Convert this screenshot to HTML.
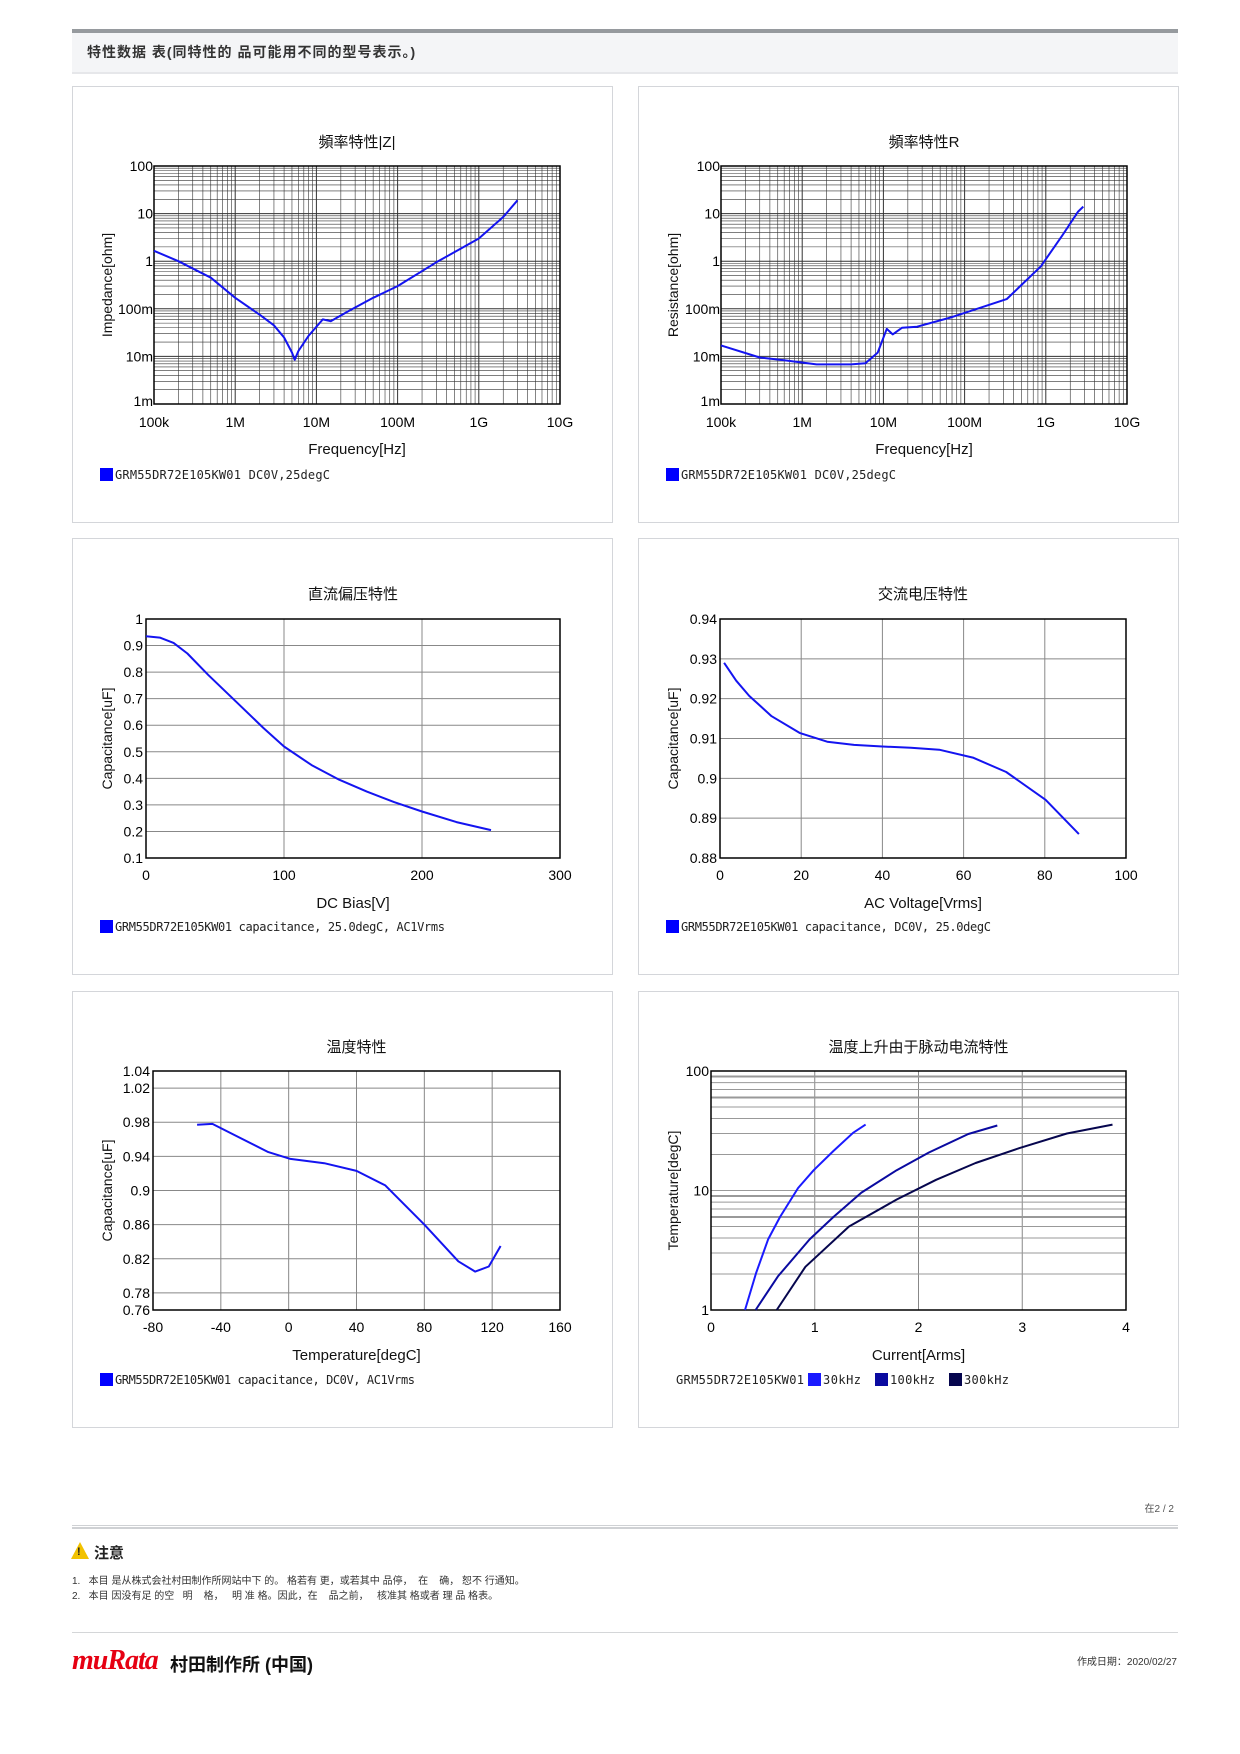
<!DOCTYPE html>
<html><head><meta charset="utf-8">
<style>
body{margin:0;background:#fff;width:1240px;height:1754px;position:relative;overflow:hidden;font-family:"Liberation Sans","Noto Sans CJK SC",sans-serif;}
.abs{position:absolute;}
.panel{position:absolute;width:541px;height:437px;border:1px solid #d4d6da;box-sizing:border-box;background:#fff;}
.panel svg{position:absolute;left:0;top:0;}
</style></head><body>
<div class="abs" style="left:72px;top:29px;width:1106px;height:4px;background:#969a9e"></div>
<div class="abs" style="left:72px;top:33px;width:1106px;height:39px;background:#f4f5f7;border-bottom:2px solid #e6e7ea"></div>
<div class="abs" style="left:87px;top:42px;font-size:14px;font-weight:bold;color:#333;letter-spacing:1px;font-family:'Liberation Sans','Noto Sans CJK SC',sans-serif">特性数据 表(同特性的 品可能用不同的型号表示。)</div>

<div class="panel" style="left:72px;top:86px"><svg id="c1" width="541" height="437"></svg></div>
<div class="panel" style="left:638px;top:86px"><svg id="c2" width="541" height="437"></svg></div>
<div class="panel" style="left:72px;top:538px"><svg id="c3" width="541" height="437"></svg></div>
<div class="panel" style="left:638px;top:538px"><svg id="c4" width="541" height="437"></svg></div>
<div class="panel" style="left:72px;top:991px"><svg id="c5" width="541" height="437"></svg></div>
<div class="panel" style="left:638px;top:991px"><svg id="c6" width="541" height="437"></svg></div>

<div class="abs" style="right:66px;top:1500px;font-size:10px;color:#555">在2 / 2</div>
<div class="abs" style="left:72px;top:1525px;width:1106px;height:4px;border-top:1px solid #cfd1d4;border-bottom:2px solid #cfd1d4;box-sizing:border-box"></div>
<div class="abs" style="left:71px;top:1542px;width:0;height:0;border-left:9px solid transparent;border-right:9px solid transparent;border-bottom:17px solid #f2c200"></div>
<div class="abs" style="left:77px;top:1546px;font-size:11px;font-weight:bold;color:#222">!</div>
<div class="abs" style="left:94px;top:1542px;font-size:15px;font-weight:bold;color:#222">注意</div>
<div class="abs" style="left:72px;top:1574px;font-size:10px;color:#333;line-height:15px;white-space:pre">1.   本目 是从株式会社村田制作所网站中下 的。 格若有 更，或若其中 品停，  在    确， 恕不 行通知。
2.   本目 因没有足 的空   明    格，   明 准 格。因此，在    品之前，   核准其 格或者 理 品 格表。</div>
<div class="abs" style="left:72px;top:1632px;width:1106px;height:1px;background:#d4d6d8"></div>
<div class="abs" style="left:72px;top:1645px;font-family:'Liberation Serif',serif;font-style:italic;font-weight:bold;font-size:28px;color:#e60012;letter-spacing:-1px">muRata</div>
<div class="abs" style="left:170px;top:1651px;font-size:18px;font-weight:bold;color:#111">村田制作所 (中国)</div>
<div class="abs" style="right:63px;top:1653px;font-size:10px;color:#333">作成日期：2020/02/27</div>

<script>
// ---- chart data ----
const zFreq=[1e5,2e5,5e5,1e6,2e6,3e6,4e6,5e6,5.4e6,6e6,8e6,1.2e7,1.5e7,2.5e7,5e7,1e8,3e8,1e9,2e9,3e9];
const zVals=[1.65,1.0,0.45,0.17,0.075,0.045,0.025,0.012,0.0085,0.013,0.027,0.06,0.055,0.09,0.17,0.3,0.95,3.0,8.5,19];
const rFreq=[1e5,3e5,6e5,1.5e6,4e6,6e6,8.5e6,1.1e7,1.3e7,1.7e7,2.6e7,7e7,3.3e8,8.7e8,1.6e9,2.5e9,2.9e9];
const rVals=[0.017,0.0095,0.0083,0.0068,0.0068,0.0072,0.012,0.038,0.029,0.04,0.042,0.067,0.16,0.78,3.5,11,14];
const freqTicks=["100k","1M","10M","100M","1G","10G"];
const ohmTicks=["1m","10m","100m","1","10","100"];
const dcV=[0,10,20,30,45,65,85,100,120,140,160,180,200,225,250];
const dcC=[0.935,0.93,0.91,0.87,0.79,0.69,0.59,0.52,0.45,0.395,0.35,0.31,0.275,0.235,0.205];
const dcXTicks=["0","100","200","300"];
const dcYTicks=["0.1","0.2","0.3","0.4","0.5","0.6","0.7","0.8","0.9","1"];
const acV=[1,4,7.2,12.7,19.6,26.4,33,40,47,54,62.3,70.5,80.2,88.4];
const acC=[0.929,0.9245,0.9207,0.9156,0.9114,0.9092,0.9084,0.908,0.9077,0.9072,0.9052,0.9016,0.8946,0.886];
const acXTicks=["0","20","40","60","80","100"];
const acYTicks=["0.88","0.89","0.9","0.91","0.92","0.93","0.94"];
const tT=[-54,-45,-32,-12,1,21,40,57,80,100,110,118,125];
const tC=[0.977,0.978,0.965,0.945,0.937,0.932,0.923,0.906,0.86,0.817,0.805,0.811,0.835];
const tXTicks=["-80","-40","0","40","80","120","160"];
const tYTicks=["0.76","0.78","0.82","0.86","0.9","0.94","0.98","1.02","1.04"];
const i30=[0.328,0.435,0.55,0.665,0.84,0.99,1.18,1.37,1.49];
const t30=[1,2.04,3.9,6.0,10.5,14.8,21.4,30.4,35.6];
const i100=[0.43,0.645,0.95,1.18,1.45,1.79,2.1,2.48,2.76];
const t100=[1,1.91,3.9,6.0,9.6,14.8,20.8,29.7,35];
const i300=[0.633,0.91,1.33,1.79,2.17,2.55,2.97,3.43,3.87];
const t300=[1,2.3,5.0,8.4,12.3,17.0,22.6,30.0,35.6];
const curXTicks=["0","1","2","3","4"];
const curYTicks=["1","10","100"];

const NS="http://www.w3.org/2000/svg";
function el(svg,tag,attrs,text){const e=document.createElementNS(NS,tag);for(const k in attrs)e.setAttribute(k,attrs[k]);if(text!==undefined)e.textContent=text;svg.appendChild(e);return e;}
const FONT='"Liberation Sans","Noto Sans CJK JP",sans-serif';
function linS(a,b,p,q){return v=>p+(v-a)/(b-a)*(q-p);}
function logS(a,b,p,q){return v=>p+(Math.log10(v)-Math.log10(a))/(Math.log10(b)-Math.log10(a))*(q-p);}

function frame(svg,o){
  const t=el(svg,'text',{x:o.L+o.W/2,y:60,'text-anchor':'middle','font-size':15,'font-family':FONT,fill:'#111'},o.title);
  
  const yl=el(svg,'text',{transform:`translate(${39},${o.T+o.H/2}) rotate(-90)`,'text-anchor':'middle','font-size':14,'font-family':FONT,fill:'#111'},o.ytitle);
  
  const xl=el(svg,'text',{x:o.L+o.W/2,y:o.T+o.H+50,'text-anchor':'middle','font-size':15,'font-family':FONT,fill:'#111'},o.xtitle);
  
}
function legend(svg,x,y,items){
  let cx=x;
  items.forEach(it=>{
    if(it.c){const r=el(svg,'rect',{x:cx,y:y-11,width:13,height:13,fill:it.c});cx+=15;}
    const t=el(svg,'text',{x:cx,y:y,'font-size':12,'font-family':'"DejaVu Sans Mono","Liberation Mono",monospace','textLength':it.w,fill:'#222'},it.t);
    
    cx+=it.w+(it.gap||4);
  });
}
function line(svg,xs,ys,sx,sy,color,w){
  const d=xs.map((v,i)=>(i?'L':'M')+sx(v).toFixed(1)+','+sy(ys[i]).toFixed(1)).join('');
  const p=el(svg,'path',{d:d,fill:'none',stroke:color,'stroke-width':w||2,'stroke-linejoin':'round'});
  
}
function box(svg,o){const r=el(svg,'rect',{x:o.L,y:o.T,width:o.W,height:o.H,fill:'none',stroke:'#000','stroke-width':1.5});}

function freqChart(id,title,ytitle,xs,ys){
  const svg=document.getElementById(id);
  const o={L:id==='c1'?81:82,T:79,W:406,H:238,title,ytitle,xtitle:'Frequency[Hz]'};
  const sx=logS(1e5,1e10,o.L,o.L+o.W), sy=logS(1e-3,100,o.T+o.H,o.T);
  const g=el(svg,'g',{});
  for(let d=5;d<10;d++)for(let k=1;k<10;k++){const x=sx(k*Math.pow(10,d));el(g,'line',{x1:x,x2:x,y1:o.T,y2:o.T+o.H,stroke:'#333','stroke-width':k==1?1:0.6});}
  for(let d=-3;d<2;d++)for(let k=1;k<10;k++){const y=sy(k*Math.pow(10,d));el(g,'line',{x1:o.L,x2:o.L+o.W,y1:y,y2:y,stroke:'#333','stroke-width':k==1?1:0.6});}
  box(svg,o);
  freqTicks.forEach((t,i)=>{const e=el(svg,'text',{x:sx(1e5*Math.pow(10,i)),y:o.T+o.H+23,'text-anchor':'middle','font-size':14,'font-family':FONT},t);});
  ohmTicks.forEach((t,i)=>{const e=el(svg,'text',{x:o.L-1,y:sy(1e-3*Math.pow(10,i))+(i==0?2:5),'text-anchor':'end','font-size':14,'font-family':FONT},t);});
  frame(svg,o);
  line(svg,xs,ys,sx,sy,'#1414f0',2);
  legend(svg,27,392,[{c:'#0000ff',t:'GRM55DR72E105KW01  DC0V,25degC',w:215}]);
}
freqChart('c1','頻率特性|Z|','Impedance[ohm]',zFreq,zVals);
freqChart('c2','頻率特性R','Resistance[ohm]',rFreq,rVals);

function linChart(id,o,xmin,xmax,ymin,ymax,xt,yt,xgrid,ygrid){
  const svg=document.getElementById(id);
  const sx=linS(xmin,xmax,o.L,o.L+o.W), sy=linS(ymin,ymax,o.T+o.H,o.T);
  xgrid.forEach(v=>el(svg,'line',{x1:sx(v),x2:sx(v),y1:o.T,y2:o.T+o.H,stroke:'#888','stroke-width':1}));
  ygrid.forEach(v=>el(svg,'line',{x1:o.L,x2:o.L+o.W,y1:sy(v),y2:sy(v),stroke:'#888','stroke-width':1}));
  box(svg,o);
  xt.forEach(t=>{const e=el(svg,'text',{x:sx(+t),y:o.T+o.H+22,'text-anchor':'middle','font-size':14,'font-family':FONT},t);});
  yt.forEach(t=>{const e=el(svg,'text',{x:o.L-3,y:sy(+t)+5,'text-anchor':'end','font-size':14,'font-family':FONT},t);});
  frame(svg,o);
  return {svg,sx,sy};
}
let c=linChart('c3',{L:73,T:80,W:414,H:239,title:'直流偏压特性',ytitle:'Capacitance[uF]',xtitle:'DC Bias[V]'},0,300,0.1,1,dcXTicks,dcYTicks,[100,200],[0.2,0.3,0.4,0.5,0.6,0.7,0.8,0.9]);
line(c.svg,dcV,dcC,c.sx,c.sy,'#1414f0',2);
legend(c.svg,27,392,[{c:'#0000ff',t:'GRM55DR72E105KW01 capacitance, 25.0degC, AC1Vrms',w:330}]);

c=linChart('c4',{L:81,T:80,W:406,H:239,title:'交流电压特性',ytitle:'Capacitance[uF]',xtitle:'AC Voltage[Vrms]'},0,100,0.88,0.94,acXTicks,acYTicks,[20,40,60,80],[0.89,0.9,0.91,0.92,0.93]);
line(c.svg,acV,acC,c.sx,c.sy,'#1414f0',2);
legend(c.svg,27,392,[{c:'#0000ff',t:'GRM55DR72E105KW01 capacitance, DC0V, 25.0degC',w:310}]);

c=linChart('c5',{L:80,T:79,W:407,H:239,title:'温度特性',ytitle:'Capacitance[uF]',xtitle:'Temperature[degC]'},-80,160,0.76,1.04,tXTicks,tYTicks,[-40,0,40,80,120],[0.78,0.82,0.86,0.9,0.94,0.98,1.02]);
line(c.svg,tT,tC,c.sx,c.sy,'#1414f0',2);
legend(c.svg,27,392,[{c:'#0000ff',t:'GRM55DR72E105KW01 capacitance, DC0V, AC1Vrms',w:300}]);

(function(){
  const svg=document.getElementById('c6');
  const o={L:72,T:79,W:415,H:239,title:'温度上升由于脉动电流特性',ytitle:'Temperature[degC]',xtitle:'Current[Arms]'};
  const sx=linS(0,4,o.L,o.L+o.W), sy=logS(1,100,o.T+o.H,o.T);
  [1,2,3].forEach(v=>el(svg,'line',{x1:sx(v),x2:sx(v),y1:o.T,y2:o.T+o.H,stroke:'#888','stroke-width':1}));
  for(let d=0;d<2;d++)for(let k=2;k<10;k++){const y=sy(k*Math.pow(10,d));el(svg,'line',{x1:o.L,x2:o.L+o.W,y1:y,y2:y,stroke:'#999','stroke-width':(k==6||k==9)?2:1});}
  el(svg,'line',{x1:o.L,x2:o.L+o.W,y1:sy(10),y2:sy(10),stroke:'#999','stroke-width':1});
  box(svg,o);
  curXTicks.forEach(t=>{const e=el(svg,'text',{x:sx(+t),y:o.T+o.H+22,'text-anchor':'middle','font-size':14,'font-family':FONT},t);});
  curYTicks.forEach((t,i)=>{const e=el(svg,'text',{x:o.L-2,y:sy(+t)+5,'text-anchor':'end','font-size':14,'font-family':FONT},t);});
  frame(svg,o);
  line(svg,i30,t30,sx,sy,'#1a1aff',2);
  line(svg,i100,t100,sx,sy,'#0a0aa0',2);
  line(svg,i300,t300,sx,sy,'#06064e',2);
  legend(svg,37,392,[{t:'GRM55DR72E105KW01',w:128,gap:4},{c:'#1a1aff',t:'30kHz',w:38,gap:14},{c:'#0a0aa0',t:'100kHz',w:45,gap:14},{c:'#06064e',t:'300kHz',w:45}]);
})();
</script>
</body></html>
